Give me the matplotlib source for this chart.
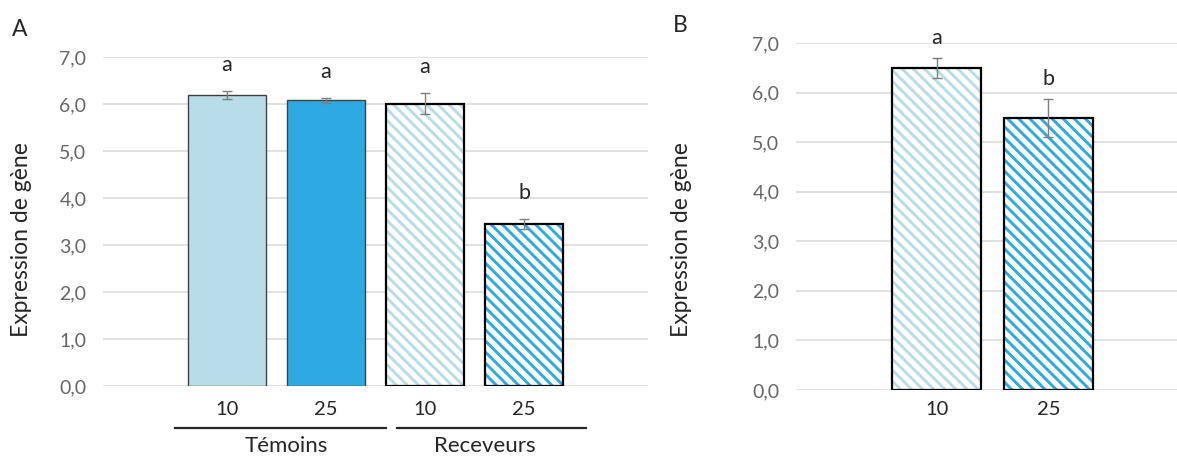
#!/usr/bin/env python3
"""Gene expression bar charts (panels A and B), Excel-like style."""
import matplotlib
matplotlib.use("Agg")
import matplotlib.pyplot as plt
import matplotlib.transforms as mtransforms
from matplotlib.ticker import FuncFormatter, MultipleLocator
import numpy as np

# ---- data -------------------------------------------------------------
doses_A = ["10", "25", "10", "25"]
means_A = [6.19, 6.08, 6.01, 3.45]
sem_A = [0.08, 0.05, 0.22, 0.11]
letters_A = ["a", "a", "a", "b"]
groups_A = ["Témoins", "Receveurs"]
group_members_A = [(0, 1), (2, 3)]

doses_B = ["10", "25"]
means_B = [6.49, 5.49]
sem_B = [0.20, 0.38]
letters_B = ["a", "b"]

ylabel = "Expression de gène"

# ---- style ------------------------------------------------------------
LIGHT = "#B8DDE8"
DARK = "#2EA9E1"
GRID = "#D9D9D9"
TICK_GREY = "#666666"
TEXT = "#262626"
FONT = ["Lato", "DejaVu Sans"]
HATCH = "\\\\\\"

plt.rcParams["font.family"] = FONT
plt.rcParams["hatch.linewidth"] = 2.1

W, H = 1177, 458
fig = plt.figure(figsize=(W / 100, H / 100), dpi=100)


def px_axes(left, right, top, bottom):
    return fig.add_axes([left / W, 1 - bottom / H, (right - left) / W, (bottom - top) / H])


def comma_fmt(v, _):
    return f"{v:.1f}".replace(".", ",")


def style_axes(ax, xpad):
    ax.set_ylim(0, 7)
    ax.yaxis.set_major_locator(MultipleLocator(1))
    ax.yaxis.set_major_formatter(FuncFormatter(comma_fmt))
    ax.grid(axis="y", color=GRID, linewidth=1.1)
    ax.set_axisbelow(True)
    for s in ax.spines.values():
        s.set_visible(False)
    ax.tick_params(axis="y", length=0, pad=12, labelsize=14, labelcolor=TICK_GREY)
    ax.tick_params(axis="x", length=0, pad=xpad, labelsize=14.5, labelcolor=TEXT)


def draw_bars(ax, x, means, sems, letters, styles, letter_off):
    for xi, m, s, lt, (col, hatched) in zip(x, means, sems, letters, styles):
        if hatched:
            ax.bar(xi, m, width=0.79, color="white", edgecolor=col,
                   hatch=HATCH, linewidth=0, zorder=2)
            ax.bar(xi, m, width=0.79, fill=False, edgecolor="black",
                   linewidth=1.6, zorder=3)
        else:
            ax.bar(xi, m, width=0.79, color=col, edgecolor="#404040",
                   linewidth=1.0, zorder=2)
        ax.errorbar(xi, m, yerr=s, color="#7F7F7F", elinewidth=1.0,
                    capsize=3.6, capthick=1.0, zorder=4)
        ax.annotate(lt, (xi, m + s), xytext=(0, letter_off), textcoords="offset points",
                    ha="center", va="baseline", fontsize=15.5, color=TEXT)


# ---- panel A ----------------------------------------------------------
axA = px_axes(103, 648, 57, 386)
style_axes(axA, 11)
xA = np.arange(len(means_A))
stylesA = [(LIGHT, False), (DARK, False), (LIGHT, True), (DARK, True)]
draw_bars(axA, xA, means_A, sem_A, letters_A, stylesA, 14.5)
axA.set_xlim(-1.25, 4.25)
axA.set_xticks(xA)
axA.set_xticklabels(doses_A)

trans = mtransforms.blended_transform_factory(axA.transData, axA.transAxes)
spans = [(-0.52, 1.61), (1.72, 3.62)]
for name, (i0, i1), (a, b) in zip(groups_A, group_members_A, spans):
    axA.plot([a, b], [-0.127, -0.127], transform=trans, color=TEXT,
             linewidth=1.6, clip_on=False)
    axA.text((i0 + i1) / 2 + 0.1, -0.183, name, transform=trans, ha="center",
             va="center", fontsize=16, color=TEXT)

# ---- panel B ----------------------------------------------------------
axB = px_axes(796, 1177, 43, 390)
style_axes(axB, 8)
xB = np.arange(len(means_B))
stylesB = [(LIGHT, True), (DARK, True)]
draw_bars(axB, xB, means_B, sem_B, letters_B, stylesB, 10)
axB.set_xlim(-1.257, 2.15)
axB.set_xticks(xB)
axB.set_xticklabels(doses_B)

# ---- labels -----------------------------------------------------------
fig.text(22 / W, 1 - 240 / H, ylabel, rotation=90, ha="center", va="center",
         fontsize=16.5, color=TEXT)
fig.text(681 / W, 1 - 240 / H, ylabel, rotation=90, ha="center", va="center",
         fontsize=16.5, color=TEXT)
fig.text(20 / W, 1 - 29 / H, "A", ha="center", va="center", fontsize=16.5, color=TEXT)
fig.text(680 / W, 1 - 25 / H, "B", ha="center", va="center", fontsize=16.5, color=TEXT)

fig.savefig("out.png", dpi=100)
